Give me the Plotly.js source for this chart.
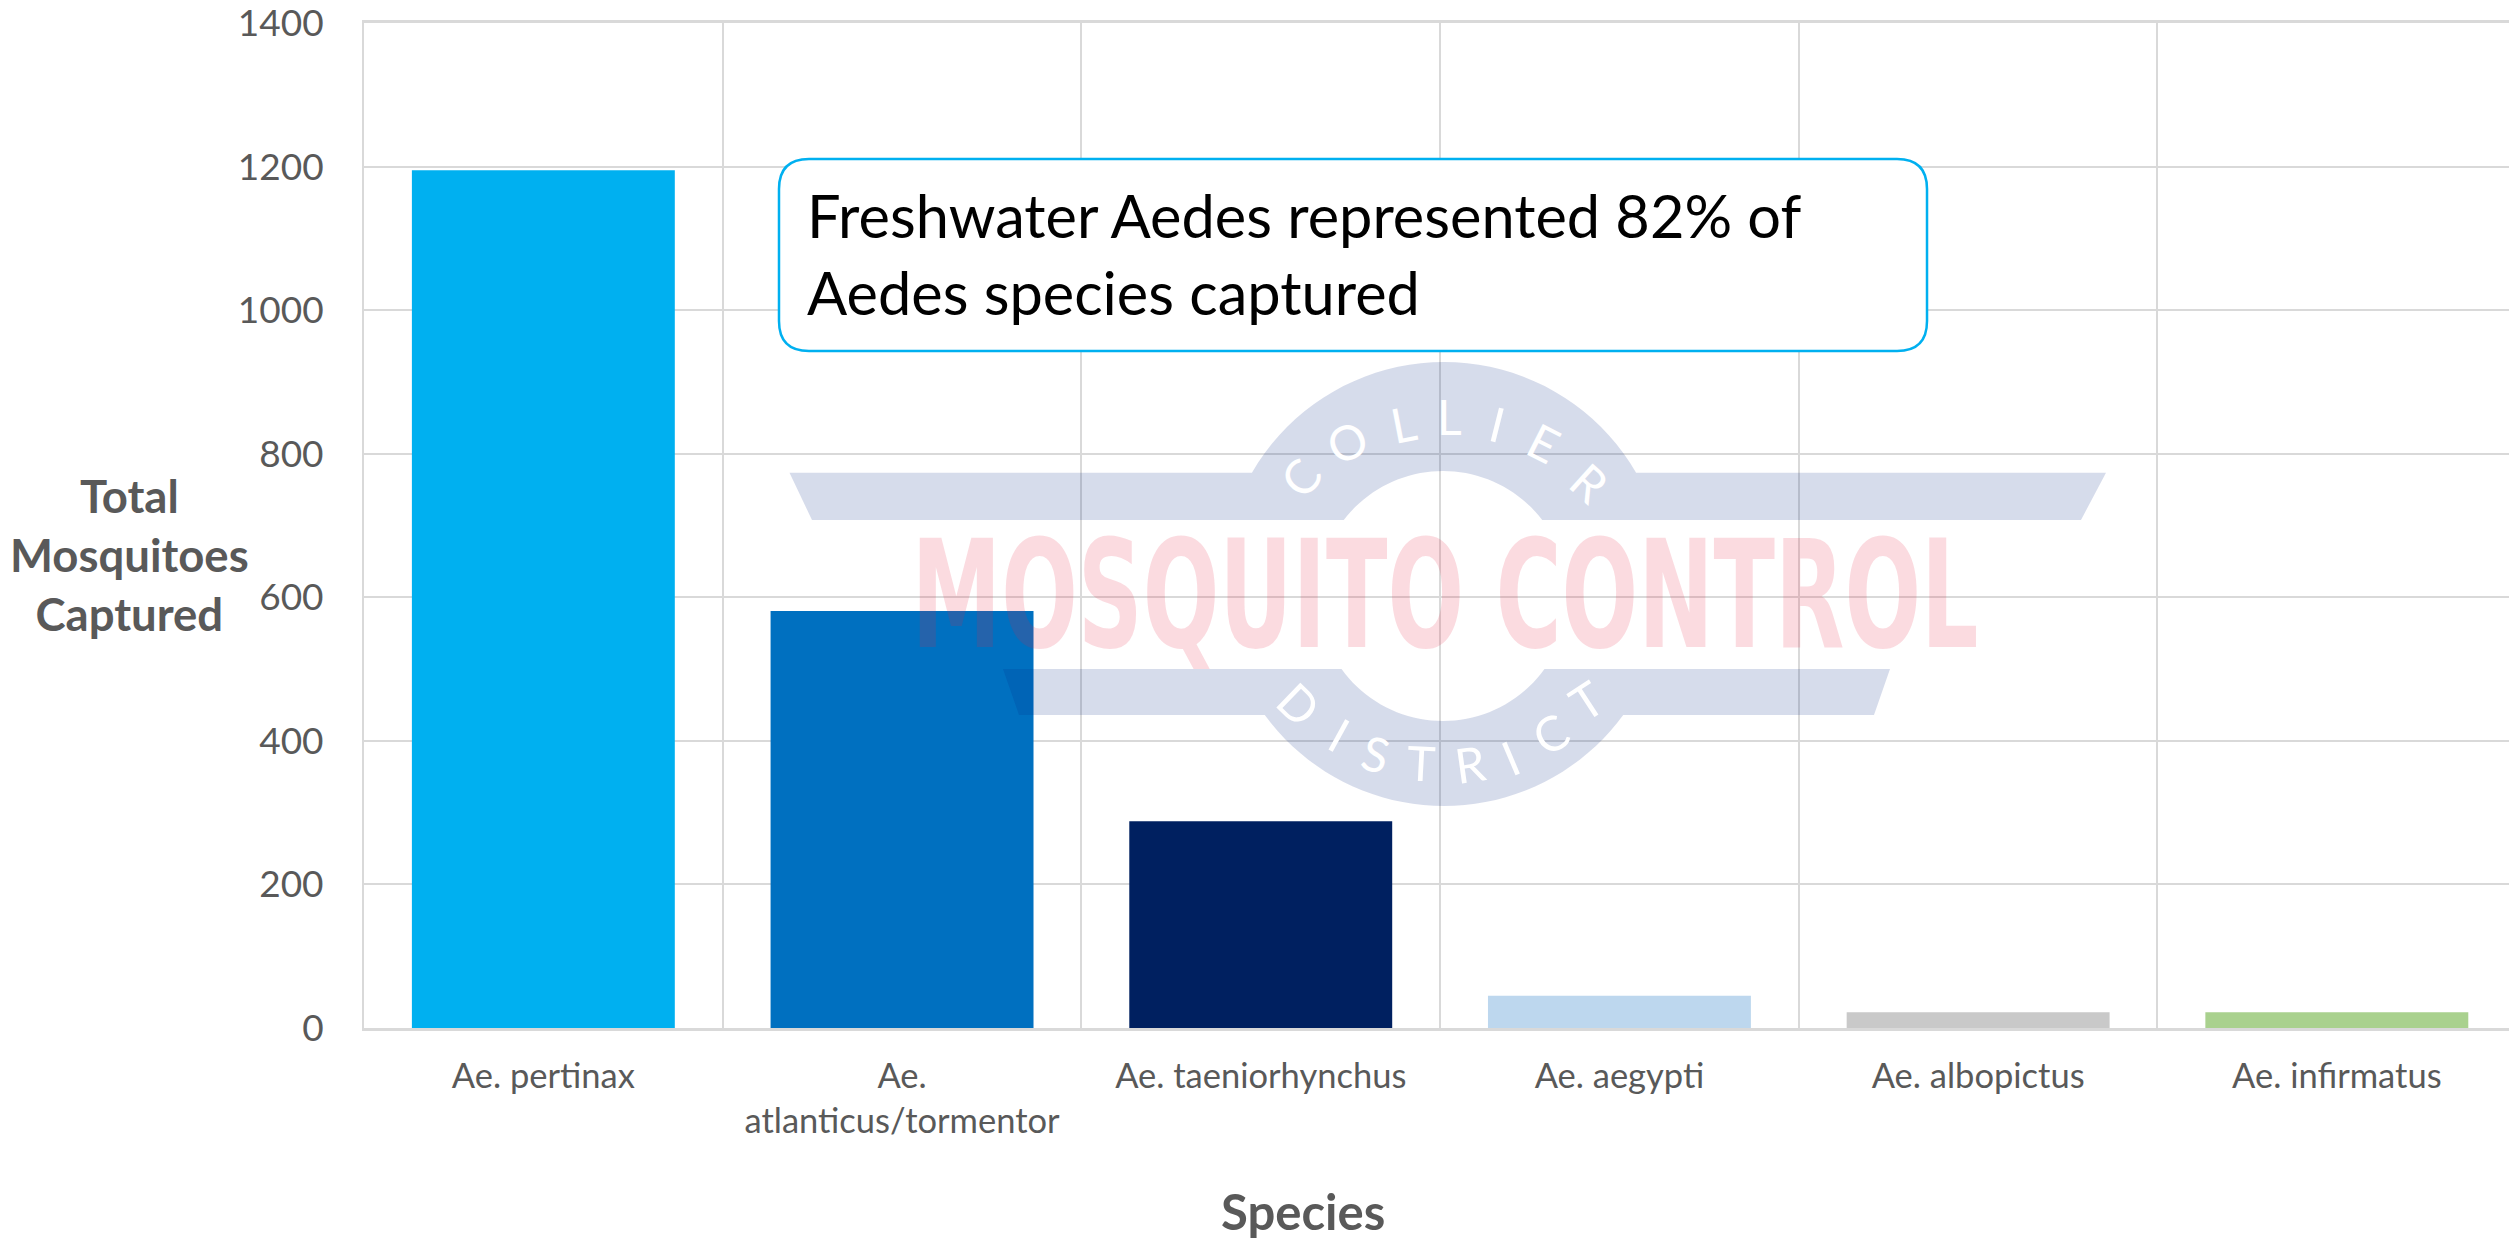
<!DOCTYPE html>
<html>
<head>
<meta charset="utf-8">
<script src="https://cdn.plot.ly/plotly-3.0.1.min.js"></script>
<style>html,body{margin:0;padding:0;background:#fff}#chart{width:2509px;height:1239px}</style>
</head>
<body>
<div id="chart"></div>
<script>
const categories = ["Ae. pertinax", "Ae.<br>atlanticus/tormentor", "Ae. taeniorhynchus", "Ae. aegypti", "Ae. albopictus", "Ae. infirmatus"];
const totals = [1195, 581, 288, 45, 22, 22];
const barColors = ["#00B0F0", "#0070C0", "#002060", "#BDD7EE", "#C9C9C9", "#A9D18E"];
const yTicks = [0, 200, 400, 600, 800, 1000, 1200, 1400];
const calloutLines = "Freshwater Aedes represented 82% of<br>Aedes species captured";
const logoCollier = ["C", "O", "L", "L", "I", "E", "R"];
const logoDistrict = ["D", "I", "S", "T", "R", "I", "C", "T"];

const W = 2509, H = 1239;
const px = x => x / W;
const py = y => 1 - y / H;
const P = (x, y) => px(x).toFixed(5) + "," + py(y).toFixed(5);

function arcTop(cx, cy, r, y, reverse) {
  const t0 = Math.acos((cy - y) / r), out = [];
  for (let i = 0; i <= 40; i++) {
    const f = reverse ? 1 - i / 40 : i / 40, t = -t0 + 2 * t0 * f;
    out.push(P(cx + r * Math.sin(t), cy - r * Math.cos(t)));
  }
  return out;
}
function arcBottom(cx, cy, r, y, reverse) {
  const t0 = Math.acos((y - cy) / r), out = [];
  for (let i = 0; i <= 40; i++) {
    const f = reverse ? 1 - i / 40 : i / 40, t = -t0 + 2 * t0 * f;
    out.push(P(cx + r * Math.sin(t), cy + r * Math.cos(t)));
  }
  return out;
}
const topLogo = [P(789.5, 472.7)].concat(arcTop(1444, 584, 222, 472.7, false), [P(2106, 472.7), P(2081, 520)], arcTop(1443, 596, 125, 520, true), [P(812, 520)]);
const bottomLogo = [P(1003, 669)].concat(arcBottom(1443, 596, 125, 669, false), [P(1890, 669), P(1874, 715)], arcBottom(1444, 584, 222, 715, true), [P(1019, 715)]);
const toPath = pts => "M" + pts.join(" L") + " Z";

function rounded(x0, y0, x1, y1, r) {
  return "M" + P(x0 + r, y0) + " L" + P(x1 - r, y0) + " Q" + P(x1, y0) + " " + P(x1, y0 + r) +
    " L" + P(x1, y1 - r) + " Q" + P(x1, y1) + " " + P(x1 - r, y1) +
    " L" + P(x0 + r, y1) + " Q" + P(x0, y1) + " " + P(x0, y1 - r) +
    " L" + P(x0, y0 + r) + " Q" + P(x0, y0) + " " + P(x0 + r, y0) + " Z";
}

const logoBlue = "rgba(0,40,130,0.16)";
const shapes = [
  {type: "path", xref: "paper", yref: "paper", layer: "above", path: toPath(topLogo), fillcolor: logoBlue, line: {width: 0}},
  {type: "path", xref: "paper", yref: "paper", layer: "above", path: toPath(bottomLogo), fillcolor: logoBlue, line: {width: 0}},
  {type: "path", xref: "paper", yref: "paper", layer: "above", path: rounded(779, 159, 1927, 351, 30), fillcolor: "#FFFFFF", line: {color: "#00B0F0", width: 2.5}}
];

const collierPos = [[1300, 477, -52], [1347, 442, -27], [1403, 423, -11], [1449, 417, 0], [1497, 423, 14], [1544, 443, 27], [1590, 482, 42]];
const districtPos = [[1300, 704, 44], [1340, 734, 29], [1376, 753, 15], [1421, 762, 3], [1470, 763, -8], [1510, 758, -23], [1550, 733, -30], [1586, 700, -33]];
const letter = (ch, p) => ({xref: "paper", yref: "paper", x: px(p[0]), y: py(p[1]), text: ch, textangle: p[2], showarrow: false,
  xanchor: "center", yanchor: "middle", font: {family: "Lato", size: 48, color: "#FFFFFF"}});

const annotations = [
  {xref: "paper", yref: "paper", x: px(1445), y: py(595), text: "MOSQUITO CONTROL", showarrow: false, xanchor: "center", yanchor: "middle",
   font: {family: "DejaVu Sans", size: 150, weight: 700, color: "rgba(230,30,60,0.16)"}},
  {xref: "paper", yref: "paper", x: px(805), y: py(253), text: calloutLines, showarrow: false, xanchor: "left", yanchor: "middle", align: "left",
   font: {family: "Lato", size: 59.5, color: "#000000"}},
  {xref: "paper", yref: "paper", x: px(129), y: py(554), text: "Total<br>Mosquitoes<br>Captured", showarrow: false, xanchor: "center", yanchor: "middle", align: "center",
   font: {family: "Lato", size: 45.5, weight: 700, color: "#595959"}},
  {xref: "paper", yref: "paper", x: px(1303), y: py(1211), text: "Species", showarrow: false, xanchor: "center", yanchor: "middle",
   font: {family: "Lato", size: 49, weight: 700, color: "#595959"}}
].concat(logoCollier.map((c, i) => letter(c, collierPos[i])), logoDistrict.map((c, i) => letter(c, districtPos[i])));

const trace = {type: "bar", x: categories, y: totals, marker: {color: barColors, line: {width: 0}}, hoverinfo: "x+y"};

const layout = {
  width: W, height: H, showlegend: false, bargap: 0.267,
  paper_bgcolor: "#FFFFFF", plot_bgcolor: "#FFFFFF",
  margin: {l: 0, r: 0, t: 0, b: 0, pad: 0},
  font: {family: "Lato", color: "#595959"},
  xaxis: {domain: [364 / W, 1], type: "category", range: [-0.5, 5.48], tickson: "boundaries", ticks: "",
    showgrid: true, gridcolor: "#D9D9D9", gridwidth: 2, showline: true, mirror: true, linecolor: "#D9D9D9", linewidth: 2.5,
    tickfont: {family: "Lato", size: 34.5, color: "#595959"}, ticklabelstandoff: 16, automargin: false},
  yaxis: {domain: [(H - 1028) / H, (H - 23) / H], range: [0, 1400], tickmode: "array", tickvals: yTicks, ticktext: yTicks.map(String),
    showgrid: true, gridcolor: "#D9D9D9", gridwidth: 2, zeroline: false, showline: true, linecolor: "#D9D9D9", linewidth: 2, ticks: "",
    tickfont: {family: "Lato", size: 37, color: "#595959"}, ticklabelstandoff: 31, ticklabeloverflow: "allow", automargin: false},
  shapes: shapes, annotations: annotations
};

Plotly.newPlot("chart", [trace], layout, {displayModeBar: false, responsive: false}).then(() => {
  const g = document.querySelectorAll("#chart .annotation")[0];
  const box = g.querySelector("text").getBBox();
  const sx = 1067 / box.width, sy = 1.0, cx = 1445, cy = 595;
  g.setAttribute("transform", `translate(${cx},${cy}) scale(${sx},${sy}) translate(${-cx},${-cy})`);
});
</script>
</body>
</html>
